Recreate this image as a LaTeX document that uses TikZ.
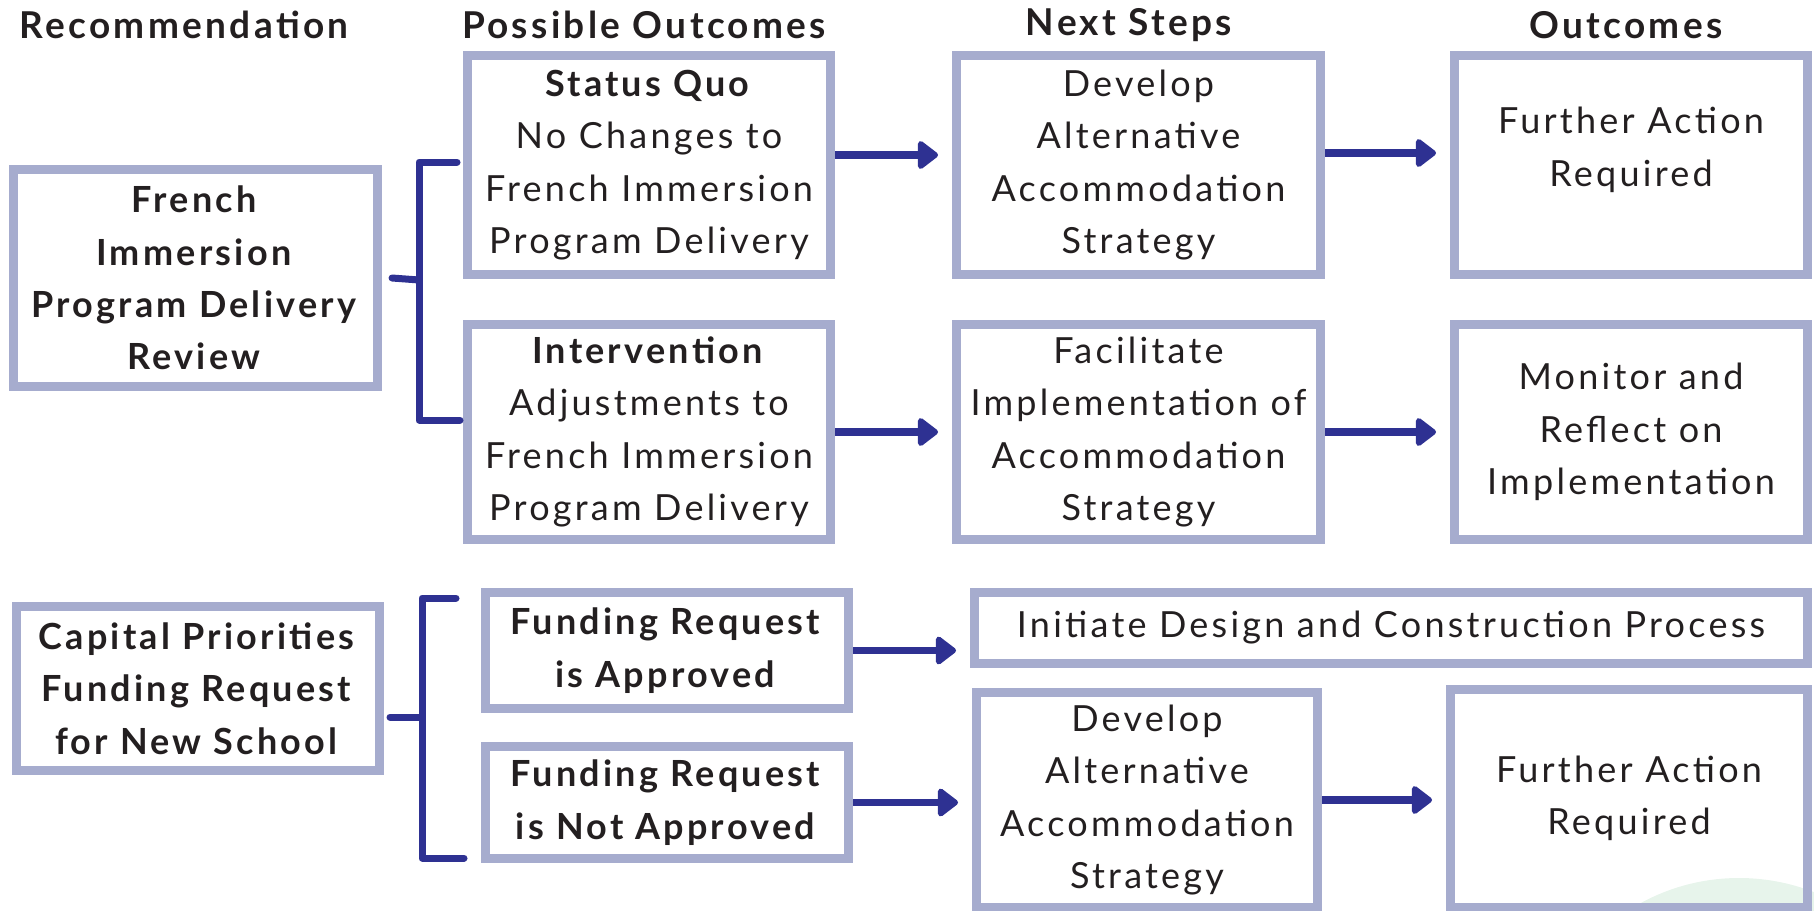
\documentclass[tikz,border=0pt]{standalone}
\usepackage{fontspec}
\setmainfont{Lato}[LetterSpace=9]
\usepackage{tikz}
\usetikzlibrary{arrows.meta,positioning}
\definecolor{BoxLine}{HTML}{A6ACCE}
\definecolor{LinkBlue}{HTML}{2E3192}
\definecolor{TextInk}{HTML}{231F20}
\definecolor{MintBg}{HTML}{E7F4EB}

\begin{document}
\begin{tikzpicture}[
    x=0.5pt, y=-0.5pt,
    every node/.style={font=\fontsize{18}{26.2}\selectfont, text=TextInk},
    outbox/.style={draw=BoxLine, line width=4.5pt, align=center, inner sep=0pt},
    colhead/.style={font=\fontsize{18.5}{26.2}\selectfont\bfseries},
    link/.style={-{Triangle[round,length=11pt,width=16pt]}, line width=3.8pt, LinkBlue, shorten >=7pt},
    bracket/.style={line width=3.5pt, LinkBlue, line cap=round, line join=round}
]
\useasboundingbox (0,0) rectangle (1814,910);
\begin{scope}
\clip (0,0) rectangle (1814,910);
\fill[MintBg] (1739,1083) circle[radius=102.5pt];
\end{scope}

% column heads
\node[colhead] (h1) at (184,25) {Recommendation};
\node[colhead] (h2) at (644,25) {Possible Outcomes};
\node[colhead] (h3) at (1129,25) {Next Steps};
\node[colhead] (h4) at (1626,25) {Outcomes};

% first recommendation
\node[outbox, minimum width=182pt, minimum height=108.5pt] (fr) at (195.5,278) {\textbf{French}\\\textbf{Immersion}\\\textbf{Program Delivery}\\\textbf{Review}};
\node[outbox, minimum width=181.5pt, minimum height=109.5pt] (sq) at (649,165) {\textbf{Status Quo}\\No Changes to\\French Immersion\\Program Delivery};
\node[outbox, minimum width=181.5pt, minimum height=107.5pt] (iv) at (649,432) {\textbf{Intervention}\\Adjustments to\\French Immersion\\Program Delivery};
\node[outbox, minimum width=182pt, minimum height=109.5pt] (dv1) at (1138.5,165) {Develop\\Alternative\\Accommodation\\Strategy};
\node[outbox, minimum width=182pt, minimum height=107.5pt] (fc) at (1138.5,432) {Facilitate\\Implementation of\\Accommodation\\Strategy};
\node[outbox, minimum width=176.5pt, minimum height=109.5pt] (fa1) at (1631,165) {Further Action\\Required\\[-8pt]\mbox{}};
\node[outbox, minimum width=176.5pt, minimum height=107.5pt] (mo) at (1631,432) {Monitor and\\Reflect on\\Implementation};

% second recommendation
\node[outbox, minimum width=181.5pt, minimum height=82pt] (cp) at (198,688.5) {\textbf{Capital Priorities}\\\textbf{Funding Request}\\\textbf{for New School}};
\node[outbox, minimum width=181.5pt, minimum height=58pt] (ap) at (667,650.5) {\textbf{Funding Request}\\\textbf{is Approved}};
\node[outbox, minimum width=181.5pt, minimum height=56pt] (na) at (667,802.5) {\textbf{Funding Request}\\\textbf{is Not Approved}};
\node[outbox, minimum width=416.5pt, minimum height=35.5pt] (ini) at (1391,628) {Initiate Design and Construction Process};
\node[outbox, minimum width=170.5pt, minimum height=107.5pt] (dv2) at (1147,800) {Develop\\Alternative\\Accommodation\\Strategy};
\node[outbox, minimum width=178.5pt, minimum height=109pt] (fa2) at (1629,798.5) {Further Action\\Required};

% brackets
\coordinate (ta) at (419,162);
\coordinate (tb) at (419,420);
\coordinate (tm) at (419,280);
\coordinate (ba) at (422,598);
\coordinate (bb) at (422,858);
\coordinate (bm) at (422,717);
\draw[bracket] ([xshift=5pt]fr.east) -- (tm);
\draw[bracket] (457,162) -- (ta) -- (tb) -- (460,420);
\draw[bracket] (390,717) -- (bm);
\draw[bracket] (456,598) -- (ba) -- (bb) -- (464,858);

% arrows
\draw[link] ([yshift=5pt]sq.east) -- ([yshift=5pt]dv1.west);
\draw[link] ([yshift=6pt]dv1.east) -- ([yshift=6pt]fa1.west);
\draw[link] (iv.east) -- (fc.west);
\draw[link] (fc.east) -- (fc.east -| mo.west);
\draw[link] (ap.east) -- (ap.east -| ini.west);
\draw[link] (na.east) -- (na.east -| dv2.west);
\draw[link] (dv2.east) -- (dv2.east -| fa2.west);
\end{tikzpicture}
\end{document}
